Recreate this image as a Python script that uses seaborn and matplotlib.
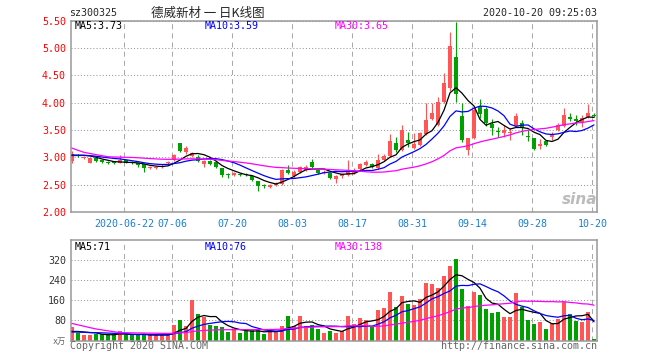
import numpy as np
import pandas as pd
import matplotlib
matplotlib.use('Agg')
import matplotlib.pyplot as plt
import seaborn as sns

# ---- data ----
holidays = ['2020-06-25', '2020-06-26', '2020-10-01', '2020-10-02', '2020-10-05',
            '2020-10-06', '2020-10-07', '2020-10-08']
days = pd.bdate_range('2020-06-09', '2020-10-20')
days = days[~days.isin(pd.to_datetime(holidays))]

tick_dates = ['2020-06-22', '2020-07-06', '2020-07-20', '2020-08-03', '2020-08-17',
              '2020-08-31', '2020-09-14', '2020-09-28', '2020-10-20']
tick_labels = ['2020-06-22', '07-06', '07-20', '08-03', '08-17',
               '08-31', '09-14', '09-28', '10-20']

open_ = [2.93, 3.05, 2.99, 2.90, 2.98, 2.95, 2.92, 2.92, 2.90, 2.95,
         2.92, 2.89, 2.87, 2.80, 2.81, 2.83, 2.89, 2.95, 3.26, 3.09,
         3.03, 3.01, 2.87, 2.93, 2.92, 2.80, 2.69, 2.67, 2.70, 2.69,
         2.66, 2.56, 2.49, 2.45, 2.50, 2.52, 2.77, 2.65, 2.74, 2.77,
         2.92, 2.77, 2.71, 2.72, 2.60, 2.65, 2.68, 2.72, 2.78, 2.86,
         2.88, 2.80, 2.95, 3.02, 3.27, 3.13, 3.31, 3.18, 3.22, 3.42,
         3.70, 3.60, 4.02, 4.26, 4.83, 3.76, 3.14, 3.35, 3.94, 3.88,
         3.61, 3.49, 3.44, 3.44, 3.57, 3.62, 3.39, 3.36, 3.21, 3.29,
         3.38, 3.50, 3.58, 3.73, 3.70, 3.64, 3.73, 3.77]
close = [3.07, 3.02, 3.01, 2.98, 2.93, 2.91, 2.90, 2.89, 2.95, 2.90,
         2.89, 2.86, 2.80, 2.82, 2.83, 2.85, 2.92, 3.04, 3.11, 3.18,
         3.08, 2.94, 2.93, 2.88, 2.83, 2.67, 2.67, 2.72, 2.68, 2.67,
         2.59, 2.47, 2.47, 2.50, 2.53, 2.77, 2.71, 2.74, 2.83, 2.82,
         2.83, 2.72, 2.74, 2.62, 2.66, 2.70, 2.77, 2.76, 2.88, 2.92,
         2.82, 2.95, 3.03, 3.29, 3.14, 3.50, 3.26, 3.25, 3.44, 3.68,
         3.81, 4.02, 4.36, 5.03, 4.15, 3.31, 3.35, 3.86, 3.80, 3.62,
         3.53, 3.47, 3.50, 3.47, 3.76, 3.53, 3.38, 3.16, 3.25, 3.23,
         3.43, 3.59, 3.78, 3.71, 3.66, 3.72, 3.82, 3.75]
high = [3.11, 3.07, 3.03, 2.99, 3.00, 2.96, 2.94, 2.93, 3.04, 2.96,
        2.93, 2.90, 2.88, 2.84, 2.85, 2.87, 2.93, 3.06, 3.27, 3.20,
        3.10, 3.04, 2.95, 2.95, 2.93, 2.81, 2.72, 2.73, 2.72, 2.71,
        2.67, 2.57, 2.52, 2.51, 2.54, 2.78, 2.86, 2.76, 2.85, 2.86,
        2.97, 2.79, 2.76, 2.73, 2.68, 2.72, 2.95, 2.80, 2.89, 2.95,
        2.90, 3.07, 3.06, 3.43, 3.38, 3.59, 3.47, 3.44, 3.46, 3.99,
        3.99, 4.10, 4.55, 5.30, 5.47, 4.00, 3.36, 3.93, 4.07, 3.92,
        3.71, 3.55, 3.59, 3.53, 3.82, 3.69, 3.50, 3.36, 3.33, 3.32,
        3.46, 3.62, 3.90, 3.81, 3.77, 3.78, 3.97, 3.81]
low = [2.89, 3.00, 2.97, 2.89, 2.92, 2.89, 2.88, 2.88, 2.89, 2.89,
       2.87, 2.82, 2.74, 2.78, 2.79, 2.81, 2.88, 2.94, 3.09, 3.07,
       3.00, 2.92, 2.83, 2.86, 2.81, 2.64, 2.63, 2.65, 2.66, 2.65,
       2.57, 2.39, 2.43, 2.43, 2.48, 2.50, 2.69, 2.63, 2.72, 2.75,
       2.81, 2.70, 2.69, 2.61, 2.53, 2.63, 2.66, 2.70, 2.76, 2.84,
       2.80, 2.79, 2.93, 3.00, 3.10, 3.12, 3.19, 3.16, 3.20, 3.40,
       3.68, 3.58, 4.00, 4.22, 4.02, 3.28, 3.05, 3.33, 3.72, 3.57,
       3.41, 3.38, 3.38, 3.32, 3.55, 3.41, 3.29, 3.13, 3.16, 3.20,
       3.32, 3.48, 3.56, 3.66, 3.59, 3.56, 3.72, 3.74]
volume = [54, 30, 21, 21, 27, 25, 21, 21, 37, 21,
          21, 21, 25, 21, 21, 21, 21, 61, 81, 56,
          161, 105, 94, 60, 57, 52, 34, 45, 30, 37,
          40, 41, 25, 35, 35, 57, 97, 57, 97, 57,
          61, 45, 30, 38, 30, 38, 97, 65, 90, 81,
          57, 121, 129, 193, 133, 177, 145, 141, 164, 230,
          225, 208, 255, 295, 325, 205, 137, 193, 181, 125,
          110, 113, 93, 93, 189, 133, 81, 65, 73, 45,
          69, 85, 153, 105, 77, 73, 113, 5]

# closes / volumes of the 29 sessions before the window (only feed the moving averages)
pre_close = [4.20, 4.13, 3.62, 3.55, 3.50, 3.45, 3.05, 3.02, 3.00, 2.98,
             3.00, 3.03, 3.05, 3.02, 3.00, 2.98, 3.00, 3.04, 3.06, 3.03,
             3.01, 3.00, 3.02, 3.04, 3.05, 3.03, 3.02, 3.04, 3.05]
pre_volume = [200, 185, 190, 180, 140, 130, 135, 140, 35, 32,
              30, 38, 34, 30, 36, 33, 31, 35, 30, 32,
              34, 30, 33, 28, 34, 30, 32, 31, 33]

# ---- prep ----
df = pd.DataFrame({'date': days, 'open': open_, 'close': close,
                   'high': high, 'low': low, 'volume': volume})
df['x'] = np.arange(len(df))
n = len(df)
full_c = pd.Series(pre_close + close)
full_v = pd.Series(pre_volume + volume)
for w in (5, 10, 30):
    df[f'ma{w}'] = full_c.rolling(w).mean().iloc[-n:].values
    df[f'vma{w}'] = full_v.rolling(w).mean().iloc[-n:].values

RED = '#ff5555'
GREEN = '#00a000'
df['col'] = np.where(df['close'] >= df['open'], RED, GREEN)
df['body_b'] = df[['open', 'close']].min(axis=1)
df['body_h'] = (df['close'] - df['open']).abs().clip(lower=0.008)

tick_x = [df.index[df['date'] == pd.Timestamp(d)][0] - 0.28 for d in tick_dates]

# ---- figure ----
sns.set_style('white')
plt.rcParams['font.family'] = ['DejaVu Sans Mono', 'Noto Sans CJK SC']
MONO = 7.2
W, H = 660, 360


def fx(x):
    return x / W


def fy(y):
    return 1 - y / H


fig = plt.figure(figsize=(6.6, 3.6), dpi=100)
ax1 = fig.add_axes([fx(70.7), fy(212), (597 - 70.7) / W, (212 - 20.7) / H])
ax2 = fig.add_axes([fx(70.7), fy(340.5), (597 - 70.7) / W, (340.5 - 240) / H])

for ax in (ax1, ax2):
    for s in ax.spines.values():
        s.set_color('#999999')
        s.set_linewidth(1.1)
    ax.set_xlim(-0.22, 87.5)
    for t in tick_x:
        ax.axvline(t, color='#aaaaaa', lw=0.75, ls=(0, (4.8, 4)), zorder=1)
    ax.grid(axis='y', color='#999999', lw=0.75, ls=(0, (1, 2)))
    ax.grid(axis='x', visible=False)
    ax.tick_params(length=0)

# price panel
ax1.vlines(df['x'], df['low'], df['high'], colors=df['col'], lw=0.8, zorder=2)
ax1.bar(df['x'], df['body_h'], bottom=df['body_b'], width=0.78, color=df['col'], lw=0, zorder=2)
sns.lineplot(x=df['x'], y=df['ma5'], ax=ax1, color='black', lw=0.9, zorder=3)
sns.lineplot(x=df['x'], y=df['ma10'], ax=ax1, color='#0000ff', lw=0.9, zorder=3)
sns.lineplot(x=df['x'], y=df['ma30'], ax=ax1, color='#ff00ff', lw=0.9, zorder=3)
ax1.set_ylim(2.0, 5.5)
ax1.set_yticks(np.arange(2.0, 5.51, 0.5))
ax1.set_yticklabels([f'{v:.2f}' for v in np.arange(2.0, 5.51, 0.5)],
                    color='#ff0000', fontsize=MONO)
ax1.tick_params(axis='y', pad=3.4)
ax1.set_xticks(tick_x)
ax1.set_xticklabels(tick_labels, color='#1a80d0', fontsize=MONO)
ax1.tick_params(axis='x', pad=5)
ax1.set_xlabel('')
ax1.set_ylabel('')

# volume panel
ax2.bar(df['x'], df['volume'], width=0.8, color=df['col'], lw=0, zorder=2)
sns.lineplot(x=df['x'], y=df['vma5'], ax=ax2, color='black', lw=0.9, zorder=3)
sns.lineplot(x=df['x'], y=df['vma10'], ax=ax2, color='#0000ff', lw=0.9, zorder=3)
sns.lineplot(x=df['x'], y=df['vma30'], ax=ax2, color='#ff00ff', lw=0.9, zorder=3)
ax2.set_ylim(0, 400)
ax2.set_yticks([80, 160, 240, 320])
ax2.set_yticklabels(['80', '160', '240', '320'], color='#333333', fontsize=MONO)
ax2.tick_params(axis='y', pad=3.4)
ax2.set_xticks([])
ax2.set_xlabel('')
ax2.set_ylabel('')

# header and labels
fig.text(fx(69.5), fy(13), 'sz300325', fontsize=MONO, va='center', ha='left')
fig.text(fx(151), fy(13), '德威新材 一 日K线图', fontsize=9, va='center', ha='left',
         family=['Noto Sans CJK SC', 'DejaVu Sans'])
fig.text(fx(597), fy(13), '2020-10-20 09:25:03', fontsize=MONO, va='center', ha='right')

fig.text(fx(75), fy(26), 'MA5:3.73', fontsize=MONO, va='center', color='black')
fig.text(fx(205), fy(26), 'MA10:3.59', fontsize=MONO, va='center', color='#0000ff')
fig.text(fx(335), fy(26), 'MA30:3.65', fontsize=MONO, va='center', color='#ff00ff')

fig.text(fx(75), fy(246.7), 'MA5:71', fontsize=MONO, va='center', color='black')
fig.text(fx(205), fy(246.7), 'MA10:76', fontsize=MONO, va='center', color='#0000ff')
fig.text(fx(335), fy(246.7), 'MA30:138', fontsize=MONO, va='center', color='#ff00ff')

fig.text(fx(66), fy(341), 'x万', fontsize=6, va='center', ha='right', color='#666666',
         family=['DejaVu Sans Mono', 'Noto Sans CJK SC'])
fig.text(fx(70), fy(346), 'Copyright 2020 SINA.COM', fontsize=MONO, va='center', color='#666666')
fig.text(fx(597), fy(346), 'http://finance.sina.com.cn', fontsize=MONO, va='center',
         ha='right', color='#666666')
fig.text(fx(580), fy(199), 'sina', fontsize=11, va='center', ha='center', color='#bbbbbb',
         style='italic', weight='bold', family='DejaVu Sans')

fig.savefig('out.png', dpi=100)
